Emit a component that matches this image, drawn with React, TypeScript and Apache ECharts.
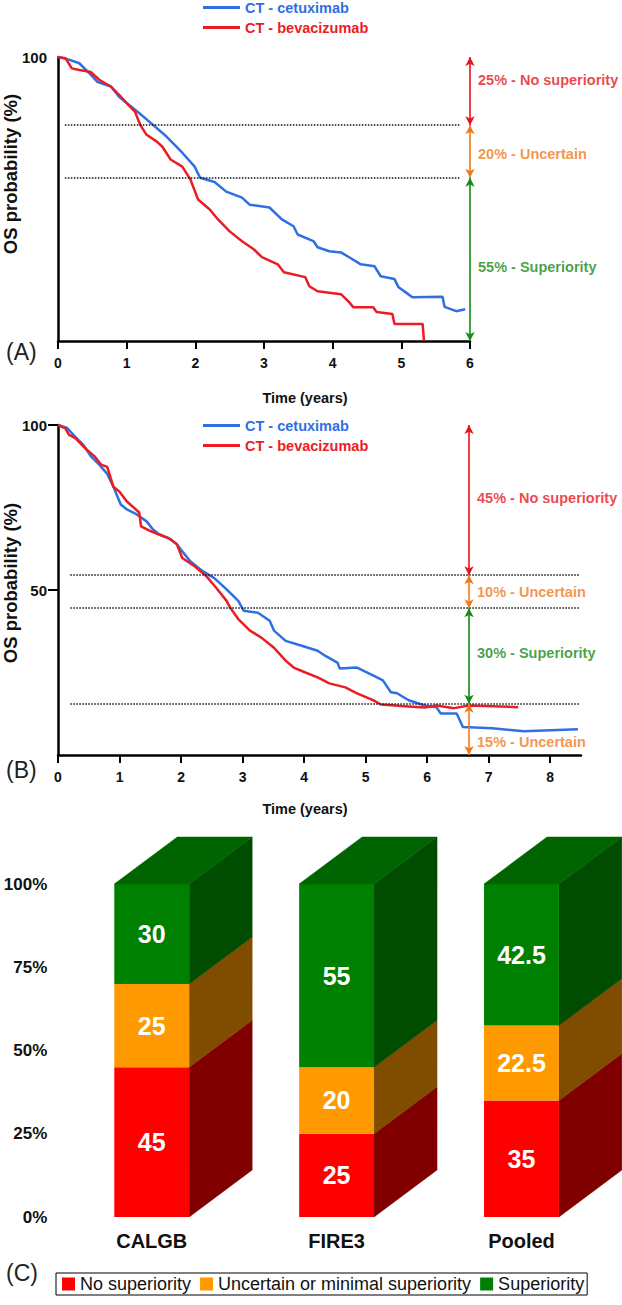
import React, { useEffect, useRef } from "react";
import * as echarts from "echarts";

const FONT = "'Liberation Sans', Arial, Helvetica, sans-serif";
const BLUE = "#2F6FE4";
const RED = "#EC1C24";
const ANN_RED = "#E8141C";
const ANN_ORANGE = "#F27A1A";
const ANN_GREEN = "#168A16";

// ---------- Panels A & B: Kaplan-Meier curves ----------
const curveNames = ["CT - cetuximab", "CT - bevacizumab"];

const aCetuximab = [
  [0, 100], [0.17, 99], [0.31, 97.8], [0.48, 93.7], [0.57, 91.3], [0.77, 89.6], [0.89, 86], [1.0, 83.8],
  [1.18, 80.3], [1.35, 76.8], [1.58, 72], [1.81, 66.3], [1.99, 61.4], [2.07, 57.5], [2.28, 56], [2.45, 52.6],
  [2.68, 50.5], [2.79, 48], [3.08, 47], [3.26, 42.8], [3.43, 40.4], [3.49, 37.5], [3.72, 35.2], [3.78, 33],
  [3.95, 31.6], [4.12, 31.2], [4.24, 29.5], [4.41, 27], [4.61, 26.3], [4.7, 22.8], [4.9, 21.8], [4.96, 18.9],
  [5.1, 16.5], [5.16, 15.4], [5.6, 15.6], [5.63, 12], [5.8, 10.5], [5.93, 11.2],
];
const aBevacizumab = [
  [0, 100], [0.11, 99.6], [0.2, 96], [0.31, 95.4], [0.48, 94.7], [0.6, 92], [0.77, 89.6], [0.89, 86.7],
  [1.0, 83.8], [1.12, 80.8], [1.2, 76], [1.29, 72.6], [1.44, 70.2], [1.52, 68.4], [1.64, 63.9], [1.81, 61.4],
  [1.93, 56.8], [2.04, 49.8], [2.21, 46.3], [2.33, 42.8], [2.5, 38.6], [2.68, 35.1], [2.85, 32.3], [2.97, 29.5],
  [3.2, 27], [3.29, 24.2], [3.6, 22.5], [3.66, 19.3], [3.78, 17.5], [4.12, 16.5], [4.24, 13.7], [4.3, 11.9],
  [4.59, 11.9], [4.64, 10.2], [4.87, 9.5], [4.9, 6], [5.31, 6], [5.33, 0],
];
const bCetuximab = [
  [0, 100], [0.15, 99.1], [0.25, 97], [0.41, 94], [0.54, 90.4], [0.67, 88], [0.8, 85.2], [0.9, 81.3],
  [1.02, 75.9], [1.12, 74.4], [1.28, 72.9], [1.44, 70.8], [1.54, 68.4], [1.64, 66.9], [1.8, 65.7], [1.93, 63.9],
  [2.02, 61.7], [2.15, 58.7], [2.35, 55.7], [2.54, 53.6], [2.74, 50.2], [2.93, 46.7], [3.02, 43.7], [3.25, 43.1],
  [3.44, 40.7], [3.51, 37.7], [3.7, 34.6], [3.96, 33.1], [4.22, 31.6], [4.34, 30.1], [4.54, 28], [4.58, 26.2],
  [4.86, 26.5], [5.12, 24.1], [5.28, 22.6], [5.41, 19], [5.51, 18.7], [5.7, 16.6], [5.96, 15], [6.15, 14.5],
  [6.22, 12.6], [6.48, 12.6], [6.58, 8.5], [7.06, 8.1], [7.57, 7.2], [8.45, 7.8],
];
const bBevacizumab = [
  [0, 100], [0.12, 99], [0.18, 97], [0.28, 96], [0.44, 93], [0.6, 90.4], [0.7, 88], [0.8, 87.3],
  [0.9, 81.3], [1.0, 79.8], [1.12, 76.8], [1.32, 73.5], [1.35, 69.3], [1.51, 67.8], [1.83, 65.4], [1.93, 63.9],
  [2.02, 59.7], [2.22, 57.2], [2.41, 54.2], [2.57, 50.7], [2.74, 46.7], [2.8, 44.6], [2.93, 41.2], [3.12, 37.7],
  [3.31, 35.5], [3.51, 32.5], [3.7, 28.6], [3.83, 26.5], [4.02, 25], [4.22, 23.5], [4.41, 21.7], [4.67, 20.5],
  [4.86, 18.7], [5.12, 16.6], [5.25, 15.3], [5.64, 14.8], [5.96, 14.4], [6.15, 15], [6.44, 14.2], [6.67, 15],
  [7.06, 14.8], [7.48, 14.5],
];

const xTicksA = [0, 1, 2, 3, 4, 5, 6];
const xTicksB = [0, 1, 2, 3, 4, 5, 6, 7, 8];

// Annotations panel A
const annAX = 6;
const annABounds = [100, 76, 57.5, 0];
const annAColors = [ANN_RED, ANN_ORANGE, ANN_GREEN];
const annATexts = ["25% - No superiority", "20% - Uncertain", "55% - Superiority"];
const annALabelY = [92, 66, 26];
const dottedA = [76, 57.5];
const dottedARange = [0.1, 5.85];

// Annotations panel B
const annBX = 6.68;
const annBBounds = [100, 54.5, 44.5, 15.5, 0];
const annBColors = [ANN_RED, ANN_ORANGE, ANN_GREEN, ANN_ORANGE];
const annBTexts = ["45% - No superiority", "10% - Uncertain", "30% - Superiority", "15% - Uncertain"];
const annBLabelY = [78, 49.5, 31, 4];
const dottedB = [54.5, 44.5, 15.5];
const dottedBRange = [0.2, 8.47];

// ---------- Panel C: stacked 3D bars ----------
const categories = ["CALGB", "FIRE3", "Pooled"];
const noSuperiority = [45, 25, 35];
const uncertain = [25, 20, 22.5];
const superiority = [30, 55, 42.5];
const stackNames = ["No superiority", "Uncertain or minimal superiority", "Superiority"];
const frontColors = ["#FF0000", "#FF9900", "#008000"];
const sideColors = ["#800000", "#7F4C00", "#004C00"];
const topColor = "#006400";
const yTicksC = [0, 25, 50, 75, 100];

const BAR_FRACTION = 0.405;
const DEPTH_DX = 63;
const DEPTH_DY = -47;

function arrowLines(x: number, bounds: number[], colors: string[]) {
  return colors.map((c, i) => [
    { coord: [x, bounds[i]], lineStyle: { color: c, width: 1.6, type: "solid" } },
    { coord: [x, bounds[i + 1]] },
  ]);
}
function dottedLines(ys: number[], range: number[]) {
  return ys.map((y) => [{ coord: [range[0], y] }, { coord: [range[1], y] }]);
}
function annLabels(x: number, ys: number[], texts: string[], colors: string[]) {
  return ys.map((y, i) => ({
    value: [x, y],
    name: texts[i],
    label: { color: colors[i] },
  }));
}

function makeBarSeries(level: number) {
  const levels = [noSuperiority, uncertain, superiority];
  const data = categories.map((_, i) => {
    let lo = 0;
    for (let k = 0; k < level; k++) lo += levels[k][i];
    const v = levels[level][i];
    return [i, lo, lo + v, v];
  });
  const isTop = level === levels.length - 1;
  return {
    type: "custom",
    name: stackNames[level],
    xAxisIndex: 2,
    yAxisIndex: 2,
    itemStyle: { color: frontColors[level] },
    encode: { x: 0, y: [1, 2] },
    data,
    renderItem: (params: any, api: any) => {
      const cat = api.value(0);
      const lo = api.value(1);
      const hi = api.value(2);
      const val = api.value(3);
      const pLo = api.coord([cat, lo]);
      const pHi = api.coord([cat, hi]);
      const band = api.size([1, 0])[0];
      const w = band * BAR_FRACTION;
      const x0 = pLo[0] - w / 2;
      const x1 = x0 + w;
      const yB = pLo[1];
      const yT = pHi[1];
      const children: any[] = [
        {
          type: "polygon",
          shape: { points: [[x1, yB], [x1 + DEPTH_DX, yB + DEPTH_DY], [x1 + DEPTH_DX, yT + DEPTH_DY], [x1, yT]] },
          style: { fill: sideColors[level], stroke: sideColors[level], lineWidth: 0.5 },
        },
        {
          type: "rect",
          shape: { x: x0, y: yT, width: w, height: yB - yT },
          style: { fill: frontColors[level] },
        },
      ];
      if (isTop) {
        children.push({
          type: "polygon",
          shape: { points: [[x0, yT], [x0 + DEPTH_DX, yT + DEPTH_DY], [x1 + DEPTH_DX, yT + DEPTH_DY], [x1, yT]] },
          style: { fill: topColor, stroke: topColor, lineWidth: 0.5 },
        });
      }
      children.push({
        type: "text",
        style: {
          text: String(val),
          x: (x0 + x1) / 2,
          y: (yB + yT) / 2,
          align: "center",
          verticalAlign: "middle",
          fill: "#ffffff",
          fontSize: 25,
          fontWeight: "bold",
          fontFamily: FONT,
        },
      });
      return { type: "group", children };
    },
  };
}

const axisBlack = { lineStyle: { color: "#000", width: 2.5 } };
const tickLabel = { color: "#111", fontSize: 14, fontWeight: "bold", fontFamily: FONT };

const option: any = {
  animation: false,
  backgroundColor: "#ffffff",
  textStyle: { fontFamily: FONT },
  grid: [
    { left: 58, top: 57, width: 412, height: 284, outerBoundsMode: "none" },
    { left: 58, top: 425, width: 523, height: 330, outerBoundsMode: "none" },
    { left: 59.3, top: 884, width: 554.6, height: 333, outerBoundsMode: "none" },
  ],
  legend: [
    {
      data: [
        { name: curveNames[0], textStyle: { color: BLUE } },
        { name: curveNames[1], textStyle: { color: RED } },
      ],
      orient: "vertical",
      left: 203,
      top: 0,
      padding: 0,
      itemGap: 5,
      itemWidth: 37,
      itemHeight: 3,
      icon: "rect",
      selectedMode: false,
      textStyle: { fontSize: 14.5, fontWeight: "bold", fontFamily: FONT },
    },
    {
      data: [
        { name: curveNames[0], textStyle: { color: BLUE } },
        { name: curveNames[1], textStyle: { color: RED } },
      ],
      orient: "vertical",
      left: 203,
      top: 418,
      padding: 0,
      itemGap: 5,
      itemWidth: 37,
      itemHeight: 3,
      icon: "rect",
      selectedMode: false,
      textStyle: { fontSize: 14.5, fontWeight: "bold", fontFamily: FONT },
    },
    {
      data: stackNames,
      orient: "horizontal",
      left: 56,
      top: 1273,
      padding: [2, 3, 2, 6],
      itemGap: 9,
      itemWidth: 13,
      itemHeight: 13,
      icon: "rect",
      selectedMode: false,
      borderColor: "#000",
      borderWidth: 1,
      textStyle: { fontSize: 18, color: "#111", fontFamily: FONT },
    },
  ],
  xAxis: [
    {
      type: "value",
      gridIndex: 0,
      min: 0,
      max: 6,
      interval: 1,
      axisLine: axisBlack,
      axisTick: { show: true, length: 8, lineStyle: { color: "#000", width: 2 } },
      axisLabel: { ...tickLabel, margin: 15, customValues: xTicksA },
      splitLine: { show: false },
    },
    {
      type: "value",
      gridIndex: 1,
      min: 0,
      max: 8.5,
      interval: 1,
      axisLine: axisBlack,
      axisTick: { show: true, length: 8, lineStyle: { color: "#000", width: 2 }, customValues: xTicksB },
      axisLabel: {
        ...tickLabel,
        margin: 15,
        customValues: xTicksB,
        formatter: (v: number) => (Number.isInteger(v) ? String(v) : ""),
      },
      splitLine: { show: false },
    },
    {
      type: "category",
      gridIndex: 2,
      data: categories,
      axisLine: { show: false },
      axisTick: { show: false },
      axisLabel: { color: "#111", fontSize: 20, fontWeight: "bold", fontFamily: FONT, margin: 14 },
      splitLine: { show: false },
    },
  ],
  yAxis: [
    {
      type: "value",
      gridIndex: 0,
      min: 0,
      max: 100,
      interval: 100,
      axisLine: { show: true, ...axisBlack },
      axisTick: { show: false },
      axisLabel: {
        color: "#111",
        fontSize: 15,
        fontWeight: "bold",
        fontFamily: FONT,
        margin: 11,
        formatter: (v: number) => (v === 100 ? "100" : ""),
      },
      splitLine: { show: false },
    },
    {
      type: "value",
      gridIndex: 1,
      min: 0,
      max: 100,
      interval: 50,
      axisLine: { show: true, ...axisBlack },
      axisTick: { show: true, length: 10, lineStyle: { color: "#000", width: 2 }, customValues: [50, 100] },
      axisLabel: {
        color: "#111",
        fontSize: 15,
        fontWeight: "bold",
        fontFamily: FONT,
        margin: 11,
        customValues: [50, 100],
        formatter: (v: number) => (v === 0 ? "" : String(v)),
      },
      splitLine: { show: false },
    },
    {
      type: "value",
      gridIndex: 2,
      min: 0,
      max: 100,
      interval: 25,
      axisLine: { show: false },
      axisTick: { show: false },
      axisLabel: {
        color: "#111",
        fontSize: 17,
        fontWeight: "bold",
        fontFamily: FONT,
        margin: 12,
        customValues: yTicksC,
        formatter: "{value}%",
      },
      splitLine: { show: false },
    },
  ],
  series: [
    // Panel A
    {
      type: "line",
      name: curveNames[0],
      xAxisIndex: 0,
      yAxisIndex: 0,
      data: aCetuximab,
      showSymbol: false,
      symbol: "none",
      color: BLUE,
      lineStyle: { color: BLUE, width: 2.5 },
      z: 3,
    },
    {
      type: "line",
      name: curveNames[1],
      xAxisIndex: 0,
      yAxisIndex: 0,
      data: aBevacizumab,
      showSymbol: false,
      symbol: "none",
      color: RED,
      lineStyle: { color: RED, width: 2.5 },
      z: 4,
      markLine: {
        silent: true,
        symbol: ["none", "none"],
        label: { show: false },
        lineStyle: { color: "#111", width: 1.5, type: "dotted" },
        data: dottedLines(dottedA, dottedARange),
      },
    },
    {
      type: "scatter",
      name: "annA",
      xAxisIndex: 0,
      yAxisIndex: 0,
      symbolSize: 0.01,
      itemStyle: { color: "transparent" },
      data: annLabels(annAX, annALabelY, annATexts, annAColors),
      label: {
        show: true,
        position: "right",
        distance: 8,
        formatter: (p: any) => p.name,
        fontSize: 14.5,
        fontWeight: "bold",
        fontFamily: FONT,
      },
      markLine: {
        silent: true,
        symbol: ["arrow", "arrow"],
        symbolSize: [7, 9],
        label: { show: false },
        data: arrowLines(annAX, annABounds, annAColors),
      },
      z: 5,
    },
    // Panel B
    {
      type: "line",
      name: curveNames[0],
      xAxisIndex: 1,
      yAxisIndex: 1,
      data: bCetuximab,
      showSymbol: false,
      symbol: "none",
      color: BLUE,
      lineStyle: { color: BLUE, width: 2.5 },
      z: 3,
    },
    {
      type: "line",
      name: curveNames[1],
      xAxisIndex: 1,
      yAxisIndex: 1,
      data: bBevacizumab,
      showSymbol: false,
      symbol: "none",
      color: RED,
      lineStyle: { color: RED, width: 2.5 },
      z: 4,
      markLine: {
        silent: true,
        symbol: ["none", "none"],
        label: { show: false },
        lineStyle: { color: "#111", width: 1.5, type: "dotted" },
        data: dottedLines(dottedB, dottedBRange),
      },
    },
    {
      type: "scatter",
      name: "annB",
      xAxisIndex: 1,
      yAxisIndex: 1,
      symbolSize: 0.01,
      itemStyle: { color: "transparent" },
      data: annLabels(annBX, annBLabelY, annBTexts, annBColors),
      label: {
        show: true,
        position: "right",
        distance: 8,
        formatter: (p: any) => p.name,
        fontSize: 14.5,
        fontWeight: "bold",
        fontFamily: FONT,
      },
      markLine: {
        silent: true,
        symbol: ["arrow", "arrow"],
        symbolSize: [7, 9],
        label: { show: false },
        data: arrowLines(annBX, annBBounds, annBColors),
      },
      z: 5,
    },
    // Panel C
    makeBarSeries(0),
    makeBarSeries(1),
    makeBarSeries(2),
  ],
  graphic: [
    {
      type: "text",
      x: 10,
      y: 174,
      rotation: Math.PI / 2,
      style: { text: "OS probability (%)", align: "center", verticalAlign: "middle", fill: "#111", fontSize: 18.5, fontWeight: "bold", fontFamily: FONT },
    },
    {
      type: "text",
      x: 10,
      y: 583,
      rotation: Math.PI / 2,
      style: { text: "OS probability (%)", align: "center", verticalAlign: "middle", fill: "#111", fontSize: 18.5, fontWeight: "bold", fontFamily: FONT },
    },
    {
      type: "text",
      x: 305,
      y: 398,
      style: { text: "Time (years)", align: "center", verticalAlign: "middle", fill: "#111", fontSize: 14.5, fontWeight: "bold", fontFamily: FONT },
    },
    {
      type: "text",
      x: 305,
      y: 809,
      style: { text: "Time (years)", align: "center", verticalAlign: "middle", fill: "#111", fontSize: 14.5, fontWeight: "bold", fontFamily: FONT },
    },
    {
      type: "text",
      x: 6,
      y: 352,
      style: { text: "(A)", align: "left", verticalAlign: "middle", fill: "#222", fontSize: 23, fontFamily: FONT },
    },
    {
      type: "text",
      x: 6,
      y: 770,
      style: { text: "(B)", align: "left", verticalAlign: "middle", fill: "#222", fontSize: 23, fontFamily: FONT },
    },
    {
      type: "text",
      x: 6,
      y: 1273,
      style: { text: "(C)", align: "left", verticalAlign: "middle", fill: "#222", fontSize: 23, fontFamily: FONT },
    },
  ],
};

export default function App() {
  const ref = useRef<HTMLDivElement>(null);
  useEffect(() => {
    if (!ref.current) return;
    const chart = echarts.init(ref.current, null, { renderer: "svg" });
    chart.setOption(option);
    return () => {
      chart.dispose();
    };
  }, []);
  return (
    <div
      ref={ref}
      style={{ position: "absolute", left: 0, top: 0, width: 622, height: 1305, background: "#ffffff" }}
    />
  );
}
